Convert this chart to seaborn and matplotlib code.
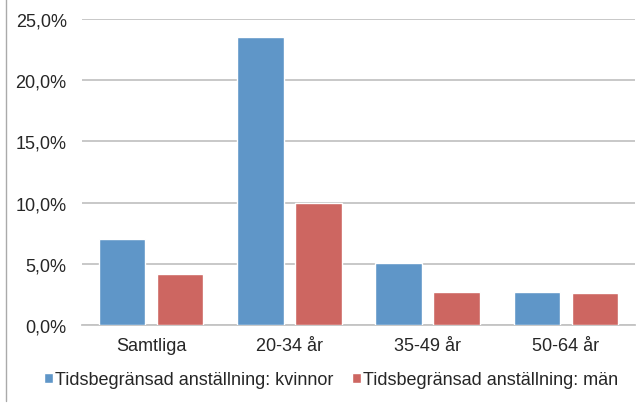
import matplotlib
matplotlib.use("Agg")
import matplotlib.pyplot as plt
from matplotlib.lines import Line2D
from matplotlib.ticker import FuncFormatter, MultipleLocator
import seaborn as sns
import pandas as pd

# Data: share with fixed-term employment (%) per age group
categories = ["Samtliga", "20-34 år", "35-49 år", "50-64 år"]
series_names = ["Tidsbegränsad anställning: kvinnor", "Tidsbegränsad anställning: män"]
kvinnor = [7.0, 23.5, 5.1, 2.7]
man = [4.2, 10.0, 2.7, 2.6]
colors = ["#5F96C8", "#CD6661"]

df = pd.DataFrame({
    "grupp": categories * 2,
    "serie": [series_names[0]] * len(categories) + [series_names[1]] * len(categories),
    "andel": kvinnor + man,
})

sns.set_theme(style="white")
plt.rcParams["font.family"] = ["Liberation Sans", "DejaVu Sans"]
text_color = "#262626"
grid_color = "#C4C4C4"
fs = 13

W, H = 642, 406
fig = plt.figure(figsize=(W / 100, H / 100), dpi=100)
ax = fig.add_axes([82 / W, 1 - 326 / H, (635 - 82) / W, (326 - 20) / H])

sns.barplot(data=df, x="grupp", y="andel", hue="serie", order=categories,
            hue_order=series_names, palette=colors, width=0.84, gap=0.2,
            saturation=1, errorbar=None, ax=ax, legend=True, zorder=3)

ax.set_ylim(0, 25)
ax.set_xlim(-0.5, len(categories) - 0.5)
ax.yaxis.set_major_locator(MultipleLocator(5))
ax.yaxis.set_major_formatter(FuncFormatter(lambda v, _: f"{v:.1f}%".replace(".", ",")))
ax.grid(axis="y", color=grid_color, linewidth=1.3, zorder=0)
ax.set_axisbelow(True)
ax.set_xlabel("")
ax.set_ylabel("")
for side in ["left", "right", "top"]:
    ax.spines[side].set_visible(False)
ax.spines["bottom"].set_color(grid_color)
ax.spines["bottom"].set_linewidth(1.3)
ax.tick_params(axis="both", length=0, labelsize=fs, colors=text_color)
ax.tick_params(axis="y", pad=11)
ax.tick_params(axis="x", pad=9)

# Legend below the plot
handles, labels = ax.get_legend_handles_labels()
ax.get_legend().remove()
fig.legend(handles, labels, loc="center", bbox_to_anchor=(331 / W, 1 - 381 / H),
           ncol=2, frameon=False, fontsize=fs, handlelength=0.5, handleheight=0.5,
           handletextpad=0.12, columnspacing=1.0, labelcolor=text_color,
           borderpad=0, borderaxespad=0)

# Thin frame line on the left edge of the figure
fig.add_artist(Line2D([6 / W, 6 / W], [1 - 402 / H, 1.0], transform=fig.transFigure,
                      color="#AAAAAA", linewidth=1.0))

fig.savefig("out.png", dpi=100)
